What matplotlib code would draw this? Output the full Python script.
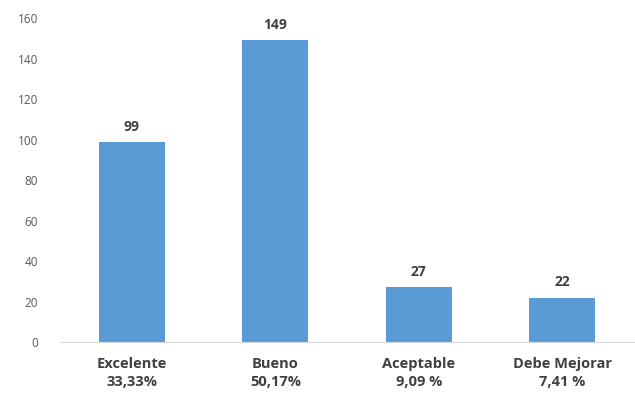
import matplotlib
matplotlib.use("Agg")
import matplotlib.pyplot as plt

# --- Data ---
categories = ["Excelente", "Bueno", "Aceptable", "Debe Mejorar"]
percent_labels = ["33,33%", "50,17%", "9,09 %", "7,41 %"]
counts = [99, 149, 27, 22]
y_ticks = [0, 20, 40, 60, 80, 100, 120, 140, 160]

BAR_COLOR = "#5B9BD5"
TEXT_DARK = "#404040"
TEXT_GRAY = "#595959"

plt.rcParams["font.family"] = ["Open Sans", "DejaVu Sans"]

fig = plt.figure(figsize=(6.35, 3.95), dpi=100)
ax = fig.add_axes([0.0945, 0.134, 0.904, 0.820])

xs = list(range(len(categories)))
bars = ax.bar(xs, counts, width=0.46, color=BAR_COLOR)

for bar, val in zip(bars, counts):
    ax.text(bar.get_x() + bar.get_width() / 2, val + 4, str(val),
            ha="center", va="bottom", fontsize=10, fontweight="bold",
            color=TEXT_DARK)

ax.set_xlim(-0.5, len(categories) - 0.5)
ax.set_ylim(0, 160)
ax.set_yticks(y_ticks)
ax.set_yticklabels([str(t) for t in y_ticks], fontsize=8.5, color=TEXT_GRAY)
ax.set_xticks(xs)
ax.set_xticklabels([f"{c}\n{p}" for c, p in zip(categories, percent_labels)],
                   fontsize=10.5, fontweight="bold", color=TEXT_DARK,
                   linespacing=1.35)

for side in ("top", "right", "left"):
    ax.spines[side].set_visible(False)
ax.spines["bottom"].set_color("#D9D9D9")
ax.tick_params(axis="both", length=0)
ax.tick_params(axis="y", pad=16)
ax.tick_params(axis="x", pad=11)

fig.savefig("out.png", dpi=100)
